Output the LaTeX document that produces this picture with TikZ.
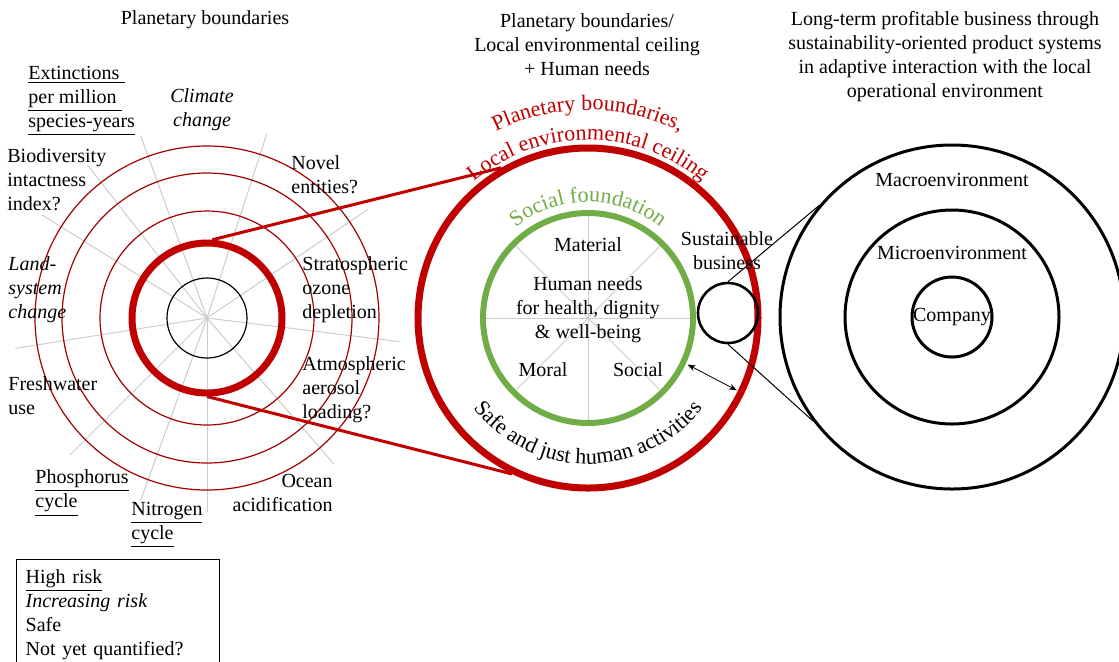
\documentclass[tikz,border=0pt]{standalone}
\usepackage{fontspec}
\setmainfont{Liberation Serif}
\usepackage{tikz}
\usetikzlibrary{decorations.text,arrows.meta}
\definecolor{pbred}{HTML}{C00000}
\definecolor{sfgreen}{HTML}{70AD47}

\begin{document}
\begin{tikzpicture}[x=0.5pt,y=0.5pt,
  ring/.style={circle,draw,inner sep=0pt},
  thinring/.style={ring,draw=pbred!85!black,line width=0.6pt},
  bizring/.style={ring,line width=1.5pt},
  spoke/.style={draw=black!20,line width=0.5pt},
  lbl/.style={inner sep=0pt,align=left,anchor=west},
  ctr/.style={inner sep=0pt,align=center},
  zoomline/.style={draw=pbred,line width=1.5pt}]
\useasboundingbox (0,0) rectangle (1119,-661);

\node[ctr] (pbtitle) at (205,-20) {Planetary boundaries};
\node[ctr] (sjtitle) at (587,-45) {Planetary boundaries/\\Local environmental ceiling\\+ Human needs};
\node[ctr] (biztitle) at (945,-57) {Long-term profitable business through\\sustainability-oriented product systems\\in adaptive interaction with the local\\operational environment};

\coordinate (pb) at (207,-318);
\foreach \a in {110,72,34,-7,-49,-90,-110,-135,-171,148,128}
  \draw[spoke] (pb) -- ++(\a:97pt);
\node[thinring,minimum size=172pt] (pbout) at (pb) {};
\node[thinring,minimum size=145pt] (pbmid) at (pb) {};
\node[thinring,minimum size=107pt] (pbin) at (pb) {};
\node[ring,draw=pbred,line width=3.5pt,minimum size=75pt] (pbsafe) at (pb) {};
\node[ring,line width=0.6pt,minimum size=40pt] (pbcore) at (pb) {};

\node[lbl] (extinct) at (28,-101) {\underline{Extinctions\ }\\\underline{per million\ }\\\underline{species-years}};
\node[ctr,font=\itshape] (climate) at (202,-110) {Climate\\change};
\node[lbl] (biodiv) at (7,-180) {Biodiversity\\intactness\\index?};
\node[lbl] (novel) at (291,-175) {Novel\\entities?};
\node[lbl,font=\itshape] (landsys) at (8,-290) {Land-\\system\\change};
\node[lbl] (ozone) at (302,-290) {Stratospheric\\ozone\\depletion};
\node[lbl] (water) at (8,-396) {Freshwater\\use};
\node[lbl] (aerosol) at (302,-390) {Atmospheric\\aerosol\\loading?};
\node[lbl] (phos) at (35,-493) {\underline{Phosphorus}\\\underline{cycle}};
\node[lbl] (nitro) at (131,-525) {\underline{Nitrogen}\\\underline{cycle}};
\node[inner sep=0pt,align=right,anchor=east] (ocean) at (333,-493) {Ocean\\acidification};

\node[draw,line width=0.7pt,anchor=north west,align=left,inner xsep=4.5pt,inner ysep=5pt,text width=92.5pt] (legend) at (16,-559) {\underline{High risk}\\\textit{Increasing risk}\\Safe\\Not yet quantified?};

\coordinate (sj) at (588,-318);
\foreach \a in {0,45,...,315}
  \draw[spoke] (sj) -- ++(\a:53pt);
\node[ring,draw=pbred,line width=3.5pt,minimum size=170pt] (ceiling) at (sj) {};
\node[ring,draw=sfgreen,line width=3pt,minimum size=105pt] (foundation) at (sj) {};
\node[ring,line width=1.3pt,minimum size=30pt] (business) at (728,-313) {};

\path[decorate,decoration={text along path,text align=center,text color=pbred,
  text={|\fontsize{11}{13}\selectfont|Planetary boundaries,}}]
  (sj) ++(170:104pt) arc (170:10:104pt);
\path[decorate,decoration={text along path,text align=center,text color=pbred,
  text={|\fontsize{11}{13}\selectfont|Local environmental ceiling}}]
  (sj) ++(170:89pt) arc (170:10:89pt);
\path[decorate,decoration={text along path,text align=center,text color=sfgreen,
  text={|\fontsize{11}{13}\selectfont|Social foundation}}]
  (sj) ++(170:58pt) arc (170:10:58pt);
\path[decorate,decoration={text along path,text align=center,
  text={|\fontsize{11}{13}\selectfont|Safe and just human activities}}]
  (sj) ++(190:73pt) arc (190:350:73pt);

\node[ctr] (material) at (588,-245) {Material};
\node[ctr] (needs) at (588,-310) {Human needs\\for health, dignity\\\& well-being};
\node[ctr] (moral) at (543,-370) {Moral};
\node[ctr] (social) at (638,-370) {Social};
\node[ctr] (sustlabel) at (727,-251) {Sustainable\\business};

\node[bizring,minimum size=172pt] (macro) at (952,-317) {};
\node[bizring,minimum size=107pt] (micro) at (952,-317) {};
\node[bizring,minimum size=40pt] (company) at (952,-317) {};
\node[ctr] (macrolabel) at (952,-180) {Macroenvironment};
\node[ctr] (microlabel) at (952,-253) {Microenvironment};
\node[ctr] (companylabel) at (company) {Company};

\draw[zoomline] (pbsafe.86) -- (ceiling.120);
\draw[zoomline] (pbsafe.270) -- (ceiling.244);
\draw[line width=0.5pt] (business.north) -- (macro.140);
\draw[line width=0.5pt] (business.south) -- (macro.217);
\draw[{Stealth[length=4pt,width=3pt]}-{Stealth[length=4pt,width=3pt]},line width=0.4pt,shorten >=4pt,shorten <=1pt] (foundation.-25) -- (ceiling.-26);
\end{tikzpicture}
\end{document}
